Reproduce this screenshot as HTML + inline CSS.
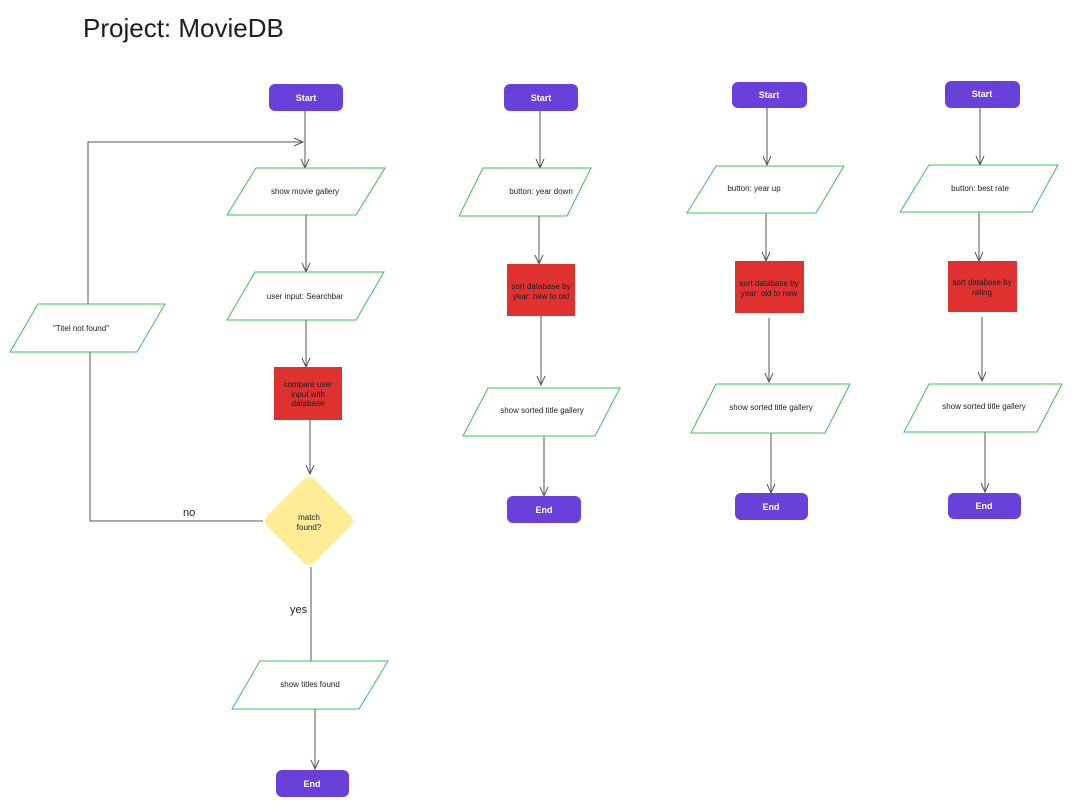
<!DOCTYPE html>
<html><head><meta charset="utf-8"><style>
html,body{margin:0;padding:0;background:#fff;}
svg{display:block;}
text{font-family:"Liberation Sans",Arial,sans-serif;}
</style></head><body>
<svg width="1074" height="811" viewBox="0 0 1074 811" xmlns="http://www.w3.org/2000/svg">
<defs>
<marker id="a" markerWidth="12" markerHeight="12" refX="6" refY="10" orient="auto" markerUnits="userSpaceOnUse" viewBox="0 0 12 12">
</marker>
</defs>
<text x="83" y="37" font-size="26" fill="#1e1e1e">Project: MovieDB</text>

<g fill="none" stroke="#555" stroke-width="1">
<!-- column 1 -->
<path d="M305 111 V168"/><path d="M301 159 L305 168 L309 159"/>
<path d="M88 304 V142 H303"/><path d="M294 138 L303 142 L294 146"/>
<path d="M306 215 V272"/><path d="M302 263 L306 272 L310 263"/>
<path d="M306 320 V367"/><path d="M302 358 L306 367 L310 358"/>
<path d="M310 420 V474"/><path d="M306 465 L310 474 L314 465"/>
<path d="M263 521 H90 V352"/>
<path d="M311 567 V661"/>
<path d="M315 709 V769"/><path d="M311 760 L315 769 L319 760"/>
<!-- column 2 -->
<path d="M540 111 V168"/><path d="M536 159 L540 168 L544 159"/>
<path d="M539 216 V264"/><path d="M535 255 L539 264 L543 255"/>
<path d="M541 316 V385"/><path d="M537 376 L541 385 L545 376"/>
<path d="M544 436 V496"/><path d="M540 487 L544 496 L548 487"/>
<!-- column 3 -->
<path d="M767 108 V165"/><path d="M763 156 L767 165 L771 156"/>
<path d="M766 213 V261"/><path d="M762 252 L766 261 L770 252"/>
<path d="M769 318 V382"/><path d="M765 373 L769 382 L773 373"/>
<path d="M771 433 V493"/><path d="M767 484 L771 493 L775 484"/>
<!-- column 4 -->
<path d="M980 108 V165"/><path d="M976 156 L980 165 L984 156"/>
<path d="M979 212 V261"/><path d="M975 252 L979 261 L983 252"/>
<path d="M982 317 V381"/><path d="M978 372 L982 381 L986 372"/>
<path d="M985 432 V492"/><path d="M981 483 L985 492 L989 483"/>
</g>

<g fill="#6741d9">
<rect x="269" y="84" width="74" height="27" rx="6"/>
<rect x="276" y="770" width="73" height="27" rx="6"/>
<rect x="504" y="84" width="74" height="27" rx="6"/>
<rect x="507" y="496" width="74" height="27" rx="6"/>
<rect x="732" y="82" width="75" height="26" rx="6"/>
<rect x="735" y="493" width="73" height="27" rx="6"/>
<rect x="945" y="81" width="75" height="27" rx="6"/>
<rect x="948" y="493" width="73" height="26" rx="6"/>
</g>
<g fill="#fff" font-size="9" font-weight="bold" text-anchor="middle">
<text x="306" y="101">Start</text>
<text x="312" y="787">End</text>
<text x="541" y="101">Start</text>
<text x="544" y="513">End</text>
<text x="769" y="98">Start</text>
<text x="771" y="510">End</text>
<text x="982" y="97">Start</text>
<text x="984" y="509">End</text>
</g>

<g fill="#fff" stroke="#40c057" stroke-width="1">
<polygon points="256,168 385,168 356,215 227,215"/>
<polygon points="255,272 384,272 356,320 227,320"/>
<polygon points="38,304 165,304 137,352 10,352"/>
<polygon points="260,661 388,661 359,709 232,709"/>
<polygon points="483,168 591,168 567,216 459,216"/>
<polygon points="488,388 620,388 595,436 463,436"/>
<polygon points="716,166 844,166 816,213 687,213"/>
<polygon points="716,384 850,384 825,433 691,433"/>
<polygon points="929,165 1058,165 1032,212 900,212"/>
<polygon points="929,384 1062,384 1037,432 904,432"/>
</g>

<g fill="#e03131">
<rect x="274" y="367" width="68" height="53"/>
<rect x="507" y="264" width="68" height="52"/>
<rect x="735" y="261" width="69" height="52"/>
<rect x="948" y="261" width="69" height="51"/>
</g>

<path d="M303 480 Q309 474 315 480 L350 515 Q356 521 350 527 L315 562 Q309 568 303 562 L268 527 Q262 521 268 515 Z" fill="#ffec99"/>

<g fill="#1e1e1e" font-size="8" text-anchor="middle">
<text x="305" y="194">show movie gallery</text>
<text x="305" y="299">user input: Searchbar</text>
<text x="81" y="331">"Titel not found"</text>
<text x="310" y="687">show titles found</text>
<text x="308" y="387">compare user</text>
<text x="308" y="397">input with</text>
<text x="308" y="406">database</text>
<text x="309" y="520">match</text>
<text x="309" y="530">found?</text>
<text x="541" y="194">button: year down</text>
<text x="541" y="289">sort database by</text>
<text x="541" y="299">year: new to old</text>
<text x="542" y="413">show sorted title gallery</text>
<text x="754" y="191">button: year up</text>
<text x="769" y="286">sort database by</text>
<text x="769" y="296">year: old to new</text>
<text x="771" y="410">show sorted title gallery</text>
<text x="980" y="191">button: best rate</text>
<text x="982" y="285">sort database by</text>
<text x="982" y="295">rating</text>
<text x="984" y="409">show sorted title gallery</text>
</g>
<g fill="#1e1e1e" font-size="11">
<text x="183" y="516">no</text>
<text x="290" y="613">yes</text>
</g>
</svg>
</body></html>
